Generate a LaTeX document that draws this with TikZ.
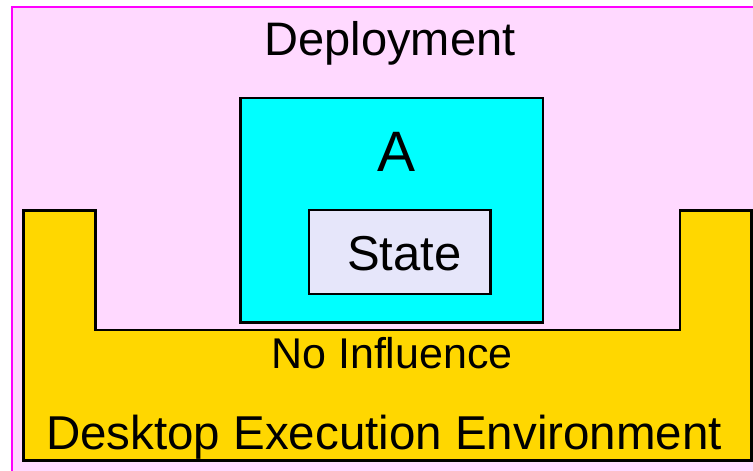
\documentclass[tikz,border=0pt]{standalone}
\usepackage{fontspec}
\setmainfont{Liberation Sans}
\definecolor{deplpink}{HTML}{FFD9FF}
\definecolor{deplborder}{HTML}{FF00FF}
\definecolor{envgold}{HTML}{FFD700}
\definecolor{compcyan}{HTML}{00FFFF}
\definecolor{statefill}{HTML}{E6E6FA}
\tikzset{
  box/.style={draw=black, line width=2.2pt, inner sep=0pt},
  label text/.style={inner sep=0pt, anchor=base, text=black},
}
\begin{document}
\begin{tikzpicture}[x=1pt, y=-1pt]
  \useasboundingbox (0,0) rectangle (753,471);
  \clip (0,0) rectangle (753,471);
  % deployment area, running past the right and bottom edges
  \fill[white] (0,0) rectangle (753,471);
  \draw[fill=deplpink, draw=deplborder, line width=2pt] (12,7) rectangle (770,490);
  \node[label text, font=\fontsize{47}{50}\selectfont] (deploy) at (390,55) {Deployment};

  % desktop execution environment (U shape)
  \draw[fill=envgold, line width=2.2pt, line join=miter]
    (23.5,210.5) -- (95.5,210.5) -- (95.5,330) -- (680,330) -- (680,210.5)
    -- (751.5,210.5) -- (751.5,460.5) -- (23.5,460.5) -- cycle;
  \node[label text, font=\fontsize{43}{46}\selectfont] (noinf) at (392,368.5) {No Influence};
  \node[label text, font=\fontsize{47.5}{52}\selectfont] (desk) at (384,449) {Desktop Execution Environment};

  % component A with its state
  \node[box, fill=compcyan, minimum width=302.5pt, minimum height=224.5pt] (compA) at (391.75,210.25) {};
  \node[label text, font=\fontsize{57}{60}\selectfont] (labelA) at (396.5,171.5) {A};
  \node[box, fill=statefill, minimum width=181.5pt, minimum height=84pt] (state) at (399.75,252) {};
  \node[label text, font=\fontsize{49}{52}\selectfont] (statetxt) at (404.5,270) {State};
\end{tikzpicture}
\end{document}
